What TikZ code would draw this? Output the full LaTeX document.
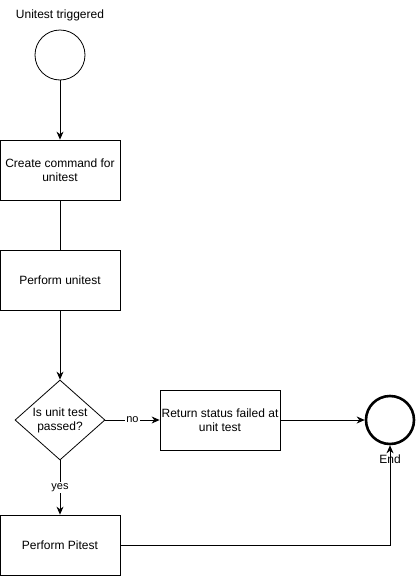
\documentclass[tikz,border=0pt]{standalone}
\usepackage{fontspec}
\setmainfont{Liberation Sans}
\usetikzlibrary{shapes.geometric,arrows.meta}
\begin{document}
\begin{tikzpicture}[x=1pt,y=-1pt,
  every node/.style={font=\fontsize{12}{14}\selectfont},
  procbox/.style={draw,line width=0.8pt,minimum width=120pt,minimum height=60pt,inner sep=0pt,align=center},
  decide/.style={draw,line width=0.8pt,diamond,minimum width=90pt,minimum height=80pt,inner sep=0pt,aspect=1.125},
  startc/.style={draw,line width=0.8pt,circle,minimum size=50pt,inner sep=0pt},
  endc/.style={draw,line width=2.6pt,circle,minimum size=48pt,inner sep=0pt},
  conn/.style={line width=0.8pt},
  arr/.style={conn,-{Stealth[length=8pt,width=7pt]}},
  lbl/.style={fill=white,inner sep=1pt,font=\fontsize{11}{13}\selectfont}
]
\useasboundingbox (0,0) rectangle (416,576);
\node (title) at (60,15) {Unitest triggered};
\node[startc] (start) at (60,55) {};
\node[procbox] (create) at (60,170) {Create command for\\unitest};
\node[procbox] (perform) at (60,280) {Perform unitest};
\node[decide] (dec) at (60,420) {};
\node[align=center] (dectext) at (60,420) {Is unit test\\passed?};
\node[procbox] (ret) at (220,420) {Return status failed at\\unit test};
\node[procbox] (pit) at (60,545) {Perform Pitest};
\node[endc] (end) at (390,420) {};
\node (endlbl) at (390,459) {End};
\draw[arr] (start) -- (create);
\draw[conn] (create) -- (perform);
\draw[arr] (perform) -- (dec);
\draw[arr] (dec) -- node[lbl] {no} (ret);
\draw[arr] (ret) -- (end);
\draw[arr] (dec) -- node[lbl] {yes} (pit);
\draw[arr] (pit) -| (end);
\end{tikzpicture}
\end{document}
